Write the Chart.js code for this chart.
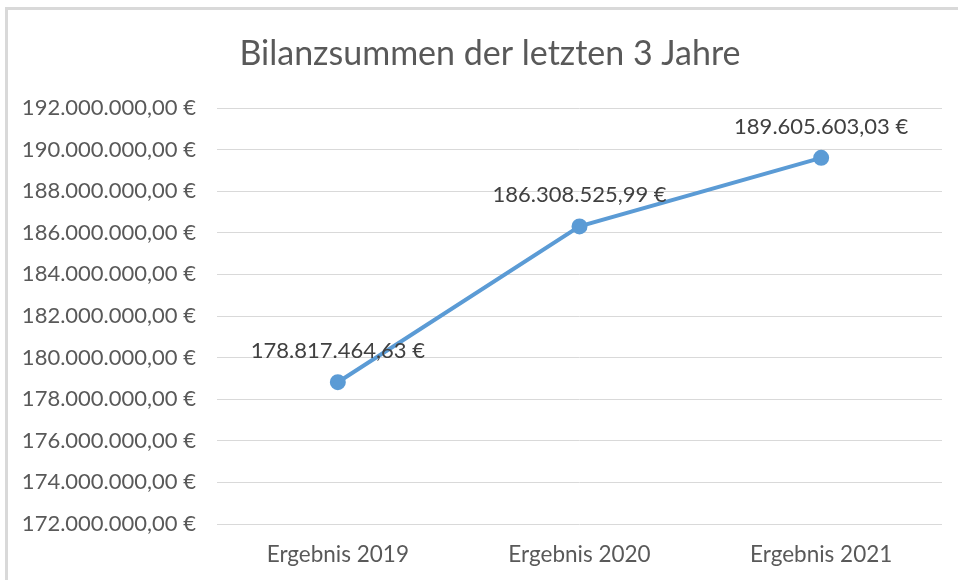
<!DOCTYPE html>
<html>
<head>
<meta charset="utf-8">
<script src="https://cdn.jsdelivr.net/npm/chart.js@4/dist/chart.umd.min.js"></script>
<style>
html,body{margin:0;padding:0;background:#fff;}
#wrap{position:absolute;left:0;top:0;width:958px;height:580px;}
</style>
</head>
<body>
<div id="wrap"><canvas id="c" width="958" height="580"></canvas></div>
<script>
const categories = ["Ergebnis 2019", "Ergebnis 2020", "Ergebnis 2021"];
const values = [178817464.63, 186308525.99, 189605603.03];
const yMin = 172000000;
const yMax = 192000000;
const yStep = 2000000;
const titleText = "Bilanzsummen der letzten 3 Jahre";

function fmtEuro(v) {
  const neg = v < 0;
  v = Math.abs(v);
  const parts = v.toFixed(2).split(".");
  const intPart = parts[0].replace(/\B(?=(\d{3})+(?!\d))/g, ".");
  return (neg ? "-" : "") + intPart + "," + parts[1] + " €";
}

const FONT = "Lato, 'Open Sans', sans-serif";

const frame = {
  id: "frame",
  beforeDraw(chart) {
    const ctx = chart.ctx;
    ctx.save();
    ctx.fillStyle = "#d9d9d9";
    ctx.fillRect(5, 7, 953, 3);
    ctx.fillRect(5, 7, 3, 573);
    ctx.restore();
  }
};

const titleDraw = {
  id: "titleDraw",
  afterDraw(chart) {
    const ctx = chart.ctx;
    ctx.save();
    ctx.font = "34px " + FONT;
    ctx.fillStyle = "#595959";
    ctx.textAlign = "center";
    ctx.textBaseline = "alphabetic";
    ctx.fillText(titleText, 490, 65);
    ctx.restore();
  }
};

const dataLabels = {
  id: "dataLabels",
  afterDatasetsDraw(chart) {
    const ctx = chart.ctx;
    const meta = chart.getDatasetMeta(0);
    ctx.save();
    ctx.font = "22px " + FONT;
    ctx.fillStyle = "#404040";
    ctx.textAlign = "center";
    ctx.textBaseline = "middle";
    meta.data.forEach((pt, i) => {
      ctx.fillText(fmtEuro(chart.data.datasets[0].data[i]), pt.x, pt.y - 31);
    });
    ctx.restore();
  }
};

new Chart(document.getElementById("c"), {
  type: "line",
  data: {
    labels: categories,
    datasets: [{
      data: values,
      borderColor: "#5B9BD5",
      backgroundColor: "#5B9BD5",
      borderWidth: 4,
      pointRadius: 6,
      pointHoverRadius: 6,
      pointBackgroundColor: "#5B9BD5",
      pointBorderColor: "#5B9BD5",
      tension: 0,
      fill: false
    }]
  },
  options: {
    responsive: false,
    animation: false,
    events: [],
    layout: { padding: { left: 10, right: 16, top: 108, bottom: 0 } },
    plugins: {
      legend: { display: false },
      tooltip: { enabled: false },
      title: { display: false }
    },
    scales: {
      x: {
        offset: true,
        grid: { display: false, drawTicks: false },
        border: { display: false },
        ticks: {
          color: "#595959",
          font: { family: FONT, size: 22.5 },
          padding: 17,
          maxRotation: 0
        },
        afterFit(s) { s.height = 56; }
      },
      y: {
        min: yMin,
        max: yMax,
        grid: { color: "#d9d9d9", lineWidth: 1, drawTicks: false },
        border: { display: false },
        ticks: {
          stepSize: yStep,
          color: "#595959",
          font: { family: FONT, size: 22 },
          padding: 21,
          callback: (v) => fmtEuro(v)
        },
        afterFit(s) { s.width = 217 - 10; }
      }
    }
  },
  plugins: [frame, dataLabels, titleDraw]
});
</script>
</body>
</html>
